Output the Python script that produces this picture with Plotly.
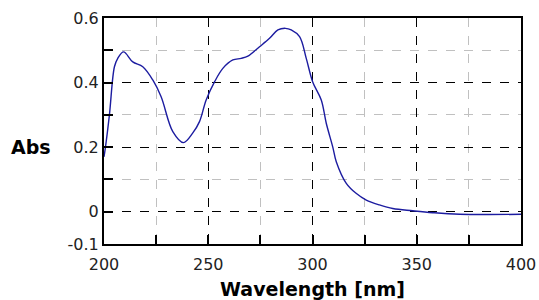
import plotly.graph_objects as go

wavelength = [200, 200.7, 202.6, 205, 206.6, 209.4, 213.8, 218.6, 223.4, 227.4, 233, 238.1,
              242.6, 245.8, 249, 253, 257, 261.8, 265.8, 269, 274.6, 279.4, 283.4, 287,
              289.8, 293.8, 297, 300.1, 304.2, 306.6, 309.7, 311.4, 316.2, 320.9, 325.8,
              332.1, 338.5, 348.1, 357.7, 370.5, 400]
absorbance = [0.17, 0.2, 0.30, 0.449, 0.475, 0.495, 0.464, 0.449, 0.408, 0.356, 0.248, 0.214,
              0.244, 0.279, 0.346, 0.402, 0.444, 0.470, 0.475, 0.482, 0.511, 0.537, 0.563, 0.568,
              0.563, 0.542, 0.475, 0.402, 0.346, 0.274, 0.201, 0.155, 0.088, 0.057, 0.036,
              0.021, 0.010, 0.003, -0.003, -0.008, -0.008]

x_ticks = [200, 250, 300, 350, 400]
x_minor = [225, 275, 325, 375]
y_ticks = [-0.1, 0, 0.2, 0.4, 0.6]
y_tick_text = ["-0.1", "0", "0.2", "0.4", "0.6"]
y_minor = [0.1, 0.3, 0.5]

fig = go.Figure()
fig.add_trace(go.Scatter(x=wavelength, y=absorbance, mode="lines",
                         line=dict(color="#1c1ca0", width=1.4), line_shape="spline"))

tick_font = dict(family="DejaVu Sans", size=16, color="#222222")
fig.update_layout(
    width=539, height=300,
    margin=dict(l=104, r=18, t=18, b=56, autoexpand=False),
    paper_bgcolor="white", plot_bgcolor="white",
    showlegend=False,
    font=tick_font,
    xaxis=dict(range=[200, 400], tickmode="array", tickvals=x_ticks,
               automargin=False, tickfont=tick_font, ticklabelstandoff=5,
               ticks="inside", ticklen=9, tickcolor="black", tickwidth=1.5,
               showline=True, linecolor="black", linewidth=2, mirror=True,
               showgrid=True, gridcolor="black", griddash="dash", gridwidth=1,
               zeroline=False,
               minor=dict(tickmode="array", tickvals=x_minor, ticks="inside", ticklen=9,
                          tickcolor="black", tickwidth=1.5,
                          showgrid=True, gridcolor="#c0c0c0", griddash="dash", gridwidth=1),
               title=dict(text="<b>Wavelength [nm]</b>",
                          font=dict(family="DejaVu Sans", size=19, color="black"),
                          standoff=12)),
    yaxis=dict(range=[-0.1, 0.6], tickmode="array", tickvals=y_ticks, ticktext=y_tick_text,
               automargin=False, tickfont=tick_font,
               ticks="inside", ticklen=9, tickcolor="black", tickwidth=1.5,
               showline=True, linecolor="black", linewidth=2, mirror=True,
               showgrid=True, gridcolor="black", griddash="dash", gridwidth=1,
               zeroline=False,
               minor=dict(tickmode="array", tickvals=y_minor, ticks="inside", ticklen=9,
                          tickcolor="black", tickwidth=1.5,
                          showgrid=True, gridcolor="#c0c0c0", griddash="dash", gridwidth=1)),
    annotations=[dict(text="<b>Abs</b>", xref="paper", yref="y", x=0, y=0.2,
                      xanchor="left", yanchor="middle", xshift=-95, showarrow=False,
                      font=dict(family="DejaVu Sans", size=19, color="black"))],
)

fig.write_html("out.html", config={"displayModeBar": False},
               post_script="document.body.style.margin='0px';document.body.style.overflow='hidden';")
